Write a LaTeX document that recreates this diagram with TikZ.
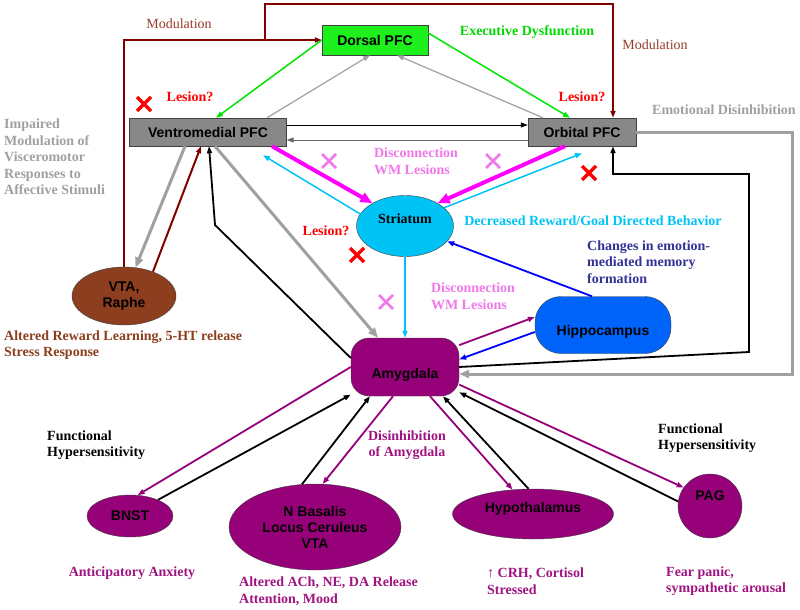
\documentclass[tikz,border=0pt]{standalone}
\usepackage{fontspec}
\setmainfont{Liberation Serif}
\setsansfont{Liberation Sans}
\usetikzlibrary{arrows.meta,shapes.geometric}
\definecolor{modbrown}{RGB}{128,0,0}
\definecolor{modtext}{RGB}{150,60,40}
\definecolor{vtabrown}{RGB}{140,62,30}
\definecolor{boxgray}{RGB}{136,136,136}
\definecolor{linegray}{RGB}{160,160,160}
\definecolor{pfcgreen}{RGB}{30,240,30}
\definecolor{strcyan}{RGB}{0,195,245}
\definecolor{hipblue}{RGB}{0,100,250}
\definecolor{amypurple}{RGB}{150,0,120}
\definecolor{labpurple}{RGB}{160,20,130}
\definecolor{wmpink}{RGB}{240,120,235}
\definecolor{wmmagenta}{RGB}{255,0,255}
\definecolor{memblue}{RGB}{50,50,150}

\begin{document}
\begin{tikzpicture}[x=1pt,y=-1pt,
	>={Triangle[length=7pt,width=5pt]},
	region/.style={draw=black!75,inner sep=0pt,align=center,font=\sffamily\bfseries\fontsize{14}{16}\selectfont},
	box/.style={region,rectangle,fill=boxgray,minimum width=157pt,minimum height=28pt},
	oval/.style={region,ellipse,fill=amypurple},
	lab/.style={inner sep=0pt,align=left,font=\bfseries\fontsize{14}{16.5}\selectfont},
	modlab/.style={inner sep=0pt,text=modtext,font=\fontsize{14}{16.5}\selectfont},
	modline/.style={draw=modbrown,line width=2pt},
	grayline/.style={draw=linegray,line width=1.2pt},
	graythick/.style={draw=linegray,line width=3pt,>={Triangle[length=10pt,width=8pt]}},
	wmline/.style={draw=wmmagenta,line width=4pt,>={Triangle[length=12pt,width=10pt]}},
	cyanline/.style={draw=strcyan,line width=1.5pt},
	blueline/.style={draw=blue,line width=1.8pt},
	amyline/.style={draw=amypurple,line width=1.8pt},
	blackline/.style={draw=black,line width=1.8pt},
	lesionx/.style={draw=red,line width=3.5pt},
	wmx/.style={draw=wmpink,line width=2.5pt}]
	\useasboundingbox (0,0) rectangle (800,610);

	% regions
	\node[box,fill=pfcgreen,minimum width=106pt,minimum height=30pt] (dpfc) at (375,40) {Dorsal PFC};
	\node[box] (vmpfc) at (208,132) {Ventromedial PFC};
	\node[box,minimum width=108pt] (opfc) at (582,132) {Orbital PFC};
	\node[oval,fill=strcyan,minimum width=97pt,minimum height=61pt,font=\bfseries\fontsize{14}{16}\selectfont] (str) at (405,226) {\raisebox{7pt}[\height][\depth]{Striatum}};
	\node[region,rectangle,rounded corners=26pt,fill=hipblue,minimum width=136pt,minimum height=57pt] (hip) at (603,325) {\raisebox{-7pt}[\height][\depth]{Hippocampus}};
	\node[region,rectangle,rounded corners=18pt,fill=amypurple,minimum width=108pt,minimum height=58pt] (amy) at (405,367) {\raisebox{-8pt}[\height][\depth]{Amygdala}};
	\node[oval,fill=vtabrown,minimum width=104pt,minimum height=58pt] (vta) at (124,296) {VTA,\\Raphe};
	\node[oval,minimum width=86pt,minimum height=42pt] (bnst) at (130,516) {BNST};
	\node[oval,minimum width=172pt,minimum height=86pt] (nbas) at (315,527) {N Basalis\\Locus Ceruleus\\VTA};
	\node[oval,minimum width=161pt,minimum height=50pt] (hyp) at (533,514) {\raisebox{5pt}[\height][\depth]{Hypothalamus}};
	\node[region,circle,fill=amypurple,minimum size=64pt] (pag) at (710,506) {\raisebox{10pt}[\height][\depth]{PAG}};

	% bend points
	\coordinate (modsplit) at (265,40);
	\coordinate (modtop) at (265,4);
	\coordinate (bendA) at (215,225);
	\coordinate (bendB) at (749,352);
	\coordinate (bendC) at (749,174);
	\coordinate (emoR) at (792,374);

	% modulation
	\draw[modline,->] (vta.north) |- (dpfc.west);
	\draw[modline,->] (modsplit) -- (modtop) -| ([xshift=31pt]opfc.north);
	\draw[modline,->] (vta.40) -- ([xshift=-7pt]vmpfc.south);

	% prefrontal
	\draw[draw=green!90!black,line width=1.5pt,->] (dpfc.west) -- ([xshift=8pt]vmpfc.north);
	\draw[draw=green!90!black,line width=1.5pt,->] ([yshift=7pt]dpfc.east) -- ([xshift=-12pt]opfc.north);
	\draw[grayline,->] ([xshift=59pt]vmpfc.north) -- ([xshift=-5pt]dpfc.south);
	\draw[grayline,->] ([xshift=-39pt]opfc.north) -- ([xshift=22pt]dpfc.south);
	\draw[black,line width=1pt,->] ([yshift=7pt]vmpfc.east) -- ([yshift=7pt]opfc.west);
	\draw[black!60,line width=1pt,->] ([yshift=-8pt]opfc.west) -- ([yshift=-8pt]vmpfc.east);
	\draw[graythick,->] ([xshift=-23pt]vmpfc.south) -- (vta.68);
	\draw[graythick,->] ([xshift=7pt]vmpfc.south) -- ([xshift=-27pt]amy.north);
	\draw[blackline,->] ([yshift=9pt]amy.west) -- (bendA) -- ([xshift=1pt]vmpfc.south);

	% striatum
	\draw[wmline,->] ([xshift=64pt]vmpfc.south) -- (str.145);
	\draw[wmline,->] ([xshift=-17pt]opfc.south) -- (str.35);
	\draw[cyanline,->] (str.165) -- ([xshift=55pt,yshift=-9pt]vmpfc.south);
	\draw[cyanline,->] (str.25) -- ([yshift=-7pt]opfc.south);
	\draw[cyanline,->] (str.south) -- (amy.north);
	\draw[blueline,->] ([xshift=-11pt]hip.north) -- (str.-20);

	% amygdala
	\draw[amyline,->] (amy.22) -- ([yshift=8pt]hip.west);
	\draw[blueline,->] ([yshift=-7pt]hip.west) -- (amy.8);
	\draw[blackline,->] (amy.east) -- (bendB) -- (bendC) -| ([xshift=31pt]opfc.south);
	\draw[graythick,->] (opfc.east) -| (emoR) -- ([yshift=-7pt]amy.east);
	\draw[amyline,->] (amy.west) -- (bnst.70);
	\draw[blackline,->] (bnst.30) -- (amy.207);
	\draw[blackline,->] (nbas.107) -- ([xshift=-35pt]amy.south);
	\draw[amyline,->] ([xshift=-12pt]amy.south) -- (nbas.80);
	\draw[amyline,->] ([xshift=25pt]amy.south) -- (hyp.130);
	\draw[blackline,->] (hyp.100) -- ([xshift=38pt]amy.south);
	\draw[amyline,->] (amy.-18) -- (pag.145);
	\draw[blackline,->] (pag.172) -- (amy.-25);

	% lesion marks
	\foreach \cx/\cy in {144/104,589/173,357/255}
		\draw[lesionx] (\cx-7,\cy-7) -- (\cx+7,\cy+7) (\cx+7,\cy-7) -- (\cx-7,\cy+7);
	\foreach \cx/\cy in {329/161,493/161,386/302}
		\draw[wmx] (\cx-7,\cy-7) -- (\cx+7,\cy+7) (\cx+7,\cy-7) -- (\cx-7,\cy+7);

	% labels
	\node[modlab] (modl) at (179,24) {Modulation};
	\node[modlab] (modr) at (655,45) {Modulation};
	\node[lab,text=green!85!black] (execd) at (527,32) {Executive Dysfunction};
	\node[lab,text=red] (lesvm) at (190,97) {Lesion?};
	\node[lab,text=red] (lesor) at (582,97) {Lesion?};
	\node[lab,text=red] (lesst) at (326,231) {Lesion?};
	\node[lab,text=wmpink] (wmtop) at (416,161) {Disconnection\\WM Lesions};
	\node[lab,text=wmpink] (wmmid) at (473,296) {Disconnection\\WM Lesions};
	\node[lab,text=linegray,anchor=west] (impair) at (4,157) {Impaired\\Modulation of\\Visceromotor\\Responses to\\Affective Stimuli};
	\node[lab,text=linegray] (emod) at (724,110) {Emotional Disinhibition};
	\node[lab,text=strcyan] (reward) at (593,221) {Decreased Reward/Goal Directed Behavior};
	\node[lab,text=memblue,anchor=west] (memory) at (587,262) {Changes in emotion-\\mediated memory\\formation};
	\node[lab,text=vtabrown,anchor=west] (learn) at (4,345) {Altered Reward Learning, 5-HT release\\Stress Response};
	\node[lab,anchor=west] (hypl) at (47,445) {Functional\\Hypersensitivity};
	\node[lab,anchor=west] (hypr) at (658,438) {Functional\\Hypersensitivity};
	\node[lab,text=labpurple,align=center] (disinh) at (407,445) {Disinhibition\\of Amygdala};
	\node[lab,text=labpurple] (anx) at (132,573) {Anticipatory Anxiety};
	\node[lab,text=labpurple,anchor=west] (ach) at (239,591) {Altered ACh, NE, DA Release\\Attention, Mood};
	\node[lab,text=labpurple,anchor=west] (crh) at (487,581) {↑ CRH, Cortisol\\Stressed};
	\node[lab,text=labpurple,anchor=west] (fear) at (666,581) {Fear panic,\\sympathetic arousal};
\end{tikzpicture}
\end{document}
